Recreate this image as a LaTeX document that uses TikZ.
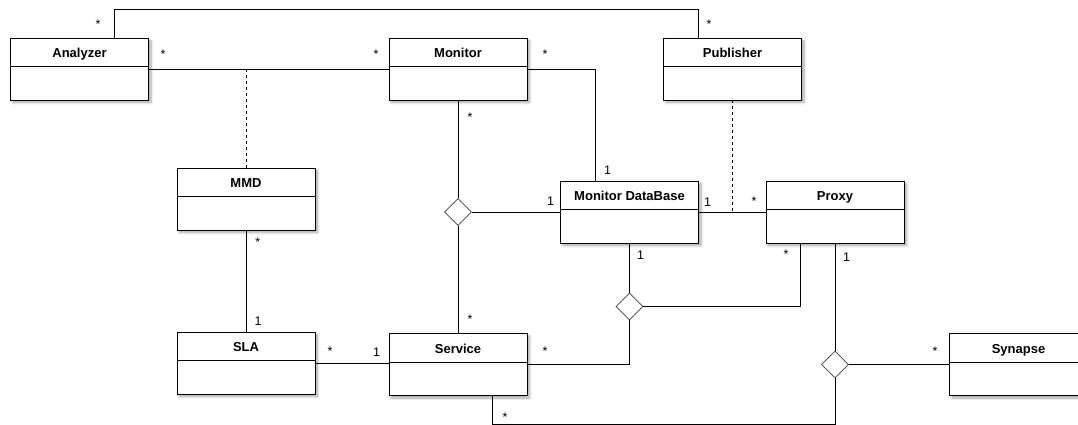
\documentclass[tikz,border=0pt]{standalone}
\usepackage{fontspec}
\setmainfont{Liberation Sans}
\usetikzlibrary{calc,shapes.geometric,shadows.blur}

\tikzset{
  cls/.style={draw=black, line width=0.8pt, fill=white, minimum width=138pt,
    minimum height=62pt, inner sep=0pt,
    blur shadow={shadow xshift=2.5pt, shadow yshift=-2.5pt, shadow blur steps=6,
      shadow blur radius=2.5pt, shadow opacity=35}},
  sep/.style={draw=black, line width=0.8pt},
  ctitle/.style={anchor=base, inner sep=0pt, font=\fontsize{13}{15}\selectfont\bfseries},
  link/.style={draw=black, line width=0.8pt},
  dep/.style={draw=black, line width=0.8pt, dash pattern=on 3pt off 3pt},
  assoc/.style={diamond, draw=black!75, line width=0.8pt, fill=white, inner sep=0pt,
    minimum width=27pt, minimum height=27pt},
  mult/.style={inner sep=0pt, font=\fontsize{12.5}{14}\selectfont},
}

% class box: name, x, y, title
\newcommand\umlclass[4]{%
  \node[cls] (#1) at (#2,#3) {};
  \draw[sep] ($(#1.north west)+(0,29)$) -- ($(#1.north east)+(0,29)$);
  \node[ctitle] at ($(#1.north)+(0,20)$) {#4};
}

\begin{document}
\begin{tikzpicture}[x=1pt, y=-1pt]
  \useasboundingbox (0,0) rectangle (1078,425);

  % classes
  \umlclass{analyzer}{79.5}{69}{Analyzer}
  \umlclass{monitor}{458}{69}{Monitor}
  \umlclass{publisher}{732.5}{69}{Publisher}
  \umlclass{mmd}{246}{199}{MMD}
  \umlclass{mdb}{629.5}{212}{Monitor DataBase}
  \umlclass{proxy}{835}{212}{Proxy}
  \umlclass{sla}{246}{363}{SLA}
  \umlclass{service}{458}{364.5}{Service}
  \umlclass{synapse}{1018.5}{364.5}{Synapse}

  % n-ary association diamonds
  \node[assoc] (d1) at (458,212) {};
  \node[assoc] (d2) at (629.5,306.5) {};
  \node[assoc] (d3) at (835,364.5) {};

  % helper points
  \coordinate (topY) at (0,9.5);
  \coordinate (lowY) at (0,424.3);
  \coordinate (anTop) at ($(analyzer.north)+(34.5,0)$);
  \coordinate (pubTop) at ($(publisher.north)+(-34.5,0)$);
  \coordinate (mdbTop) at ($(mdb.north)+(-34.5,0)$);
  \coordinate (pxLeft) at ($(proxy.south)+(-34.5,0)$);
  \coordinate (svcLow) at ($(service.south)+(34.5,0)$);

  % associations
  \draw[link] (anTop) -- (anTop |- topY) -| (pubTop);
  \draw[link] (analyzer.east) -- (monitor.west);
  \draw[link] (monitor.east) -| (mdbTop);
  \draw[link] (mdb.east) -- (proxy.west);
  \draw[link] (monitor.south) -- (d1.north);
  \draw[link] (d1.east) -- (mdb.west);
  \draw[link] (d1.south) -- (service.north);
  \draw[link] (mmd.south) -- (sla.north);
  \draw[link] (sla.east) -- (sla.east -| service.west);
  \draw[link] (mdb.south) -- (d2.north);
  \draw[link] (d2.east) -| (pxLeft);
  \draw[link] (d2.south) |- (service.east);
  \draw[link] (proxy.south) -- (d3.north);
  \draw[link] (d3.east) -- (synapse.west);
  \draw[link] (d3.south) -- (d3.south |- lowY) -| (svcLow);

  % dependency lines
  \draw[dep] (mmd.north) -- (mmd.north |- analyzer.east);
  \draw[dep] (publisher.south) -- (publisher.south |- mdb.east);

  % multiplicities
  \node[mult] (m1)  at (98,24.2) {*};
  \node[mult] (m2)  at (709,24.5) {*};
  \node[mult] (m3)  at (163,54.5) {*};
  \node[mult] (m4)  at (376,54.5) {*};
  \node[mult] (m5)  at (545,54.5) {*};
  \node[mult] (m6)  at (470,117.5) {*};
  \node[mult] (m7)  at (607.7,170) {1};
  \node[mult] (m8)  at (550.5,201) {1};
  \node[mult] (m9)  at (707.7,202) {1};
  \node[mult] (m10) at (754,201.5) {*};
  \node[mult] (m11) at (640.7,255) {1};
  \node[mult] (m12) at (786,254.5) {*};
  \node[mult] (m13) at (846.7,257) {1};
  \node[mult] (m14) at (257.7,241.8) {*};
  \node[mult] (m15) at (258,321) {1};
  \node[mult] (m16) at (470,319.2) {*};
  \node[mult] (m17) at (330,351.5) {*};
  \node[mult] (m18) at (376.7,352) {1};
  \node[mult] (m19) at (545,351.5) {*};
  \node[mult] (m20) at (935,351.5) {*};
  \node[mult] (m21) at (505,417.5) {*};
\end{tikzpicture}
\end{document}
